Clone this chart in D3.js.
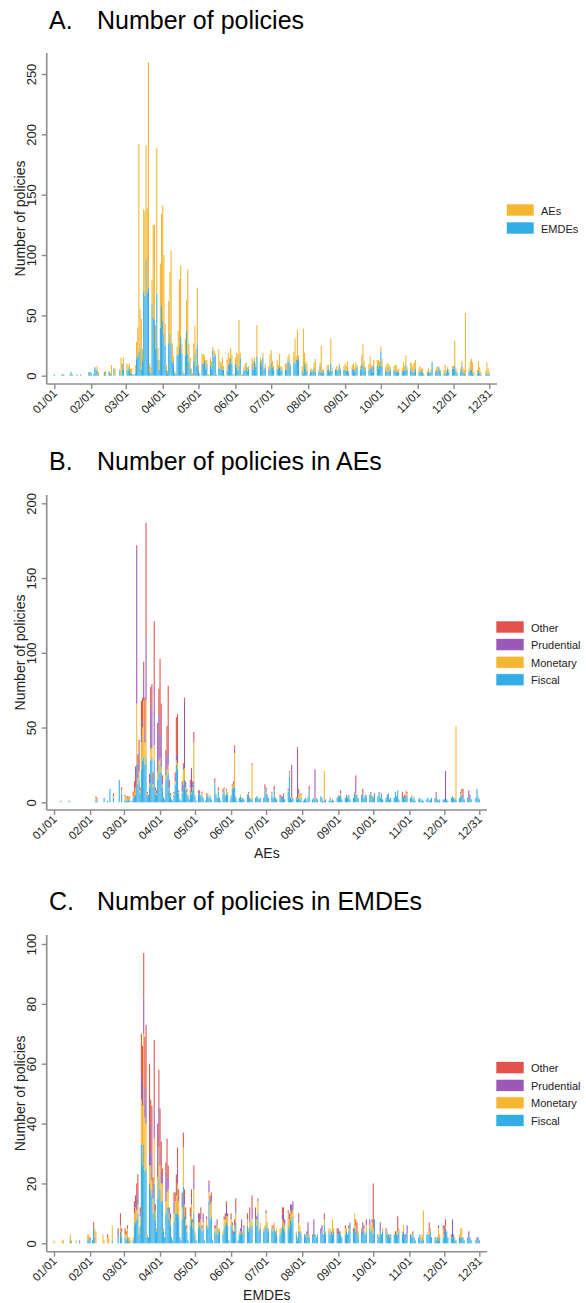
<!DOCTYPE html>
<html>
<head>
<meta charset="utf-8">
<script src="https://cdn.jsdelivr.net/npm/d3@7"></script>
<style>
  html, body { margin: 0; padding: 0; background: #fff; }
  svg { display: block; font-family: "Liberation Sans", Arial, Helvetica, sans-serif; }
</style>
</head>
<body>
<svg id="chart" width="586" height="1303"></svg>
<script>
// Daily counts of new policy measures in 2020 (366 days, Jan 1 .. Dec 31), one line per month.

// Advanced economies
const aeFiscal = [
  0,0,0,0,0,0,1,0,0,0, 0,0,0,1,0,0,0,0,0,0, 0,0,0,0,0,0,0,0,0,0, 0,
  0,0,0,0,0,2,1,0,0,0, 0,0,3,0,0,1,0,9,0,0, 3,0,0,0,0,15,0,6,0,
  0,2,1,1,1,2,0,1,3,4, 5,25,12,15,6,22,28,30,25,30, 4,3,10,28,30,10,28,6,5,15, 20,
  25,20,10,3,2,15,18,20,8,4, 2,1,5,12,25,22,6,2,1,6, 12,15,8,6,4,2,8,5,8,14,
  4,1,0,5,6,4,5,3,0,1, 4,5,3,4,2,0,0,12,5,3, 7,3,1,0,6,7,4,6,5,0, 1,
  4,9,10,10,3,1,0,3,4,2, 3,2,0,0,4,5,3,2,2,0, 0,3,4,3,2,3,0,0,3,8,
  6,4,3,0,0,5,3,8,3,2, 0,0,3,4,2,5,2,0,0,7, 17,3,2,3,0,0,3,2,3,2, 3,
  0,1,2,3,1,3,8,0,0,2, 3,2,3,2,0,0,4,3,1,1, 2,0,0,1,2,1,2,1,0,0, 3,
  4,3,5,2,0,0,3,4,3,5, 2,0,0,3,6,5,4,3,0,0, 4,6,3,5,4,0,0,5,6,3,
  3,5,0,0,4,5,3,6,2,0, 0,3,4,6,2,3,0,0,3,7, 4,8,2,0,0,3,4,3,5,4, 0,
  0,3,4,2,3,1,0,0,2,3, 1,2,1,0,0,2,3,1,2,3, 0,0,2,5,2,1,2,0,0,2,
  2,1,2,1,0,0,3,4,3,2, 2,0,0,3,4,5,3,2,0,0, 3,2,4,2,0,0,0,3,9,3, 2
];
const aeMonetary = [
  0,0,0,0,0,0,0,0,0,0, 0,0,0,0,0,0,0,0,0,0, 0,0,0,0,0,0,0,0,0,0, 0,
  0,0,0,0,0,1,1,0,0,0, 0,0,0,0,0,0,0,0,0,0, 1,0,0,0,0,0,0,2,0,
  0,2,3,2,3,1,0,0,1,3, 5,41,4,6,2,18,22,38,15,39, 2,0,3,8,6,2,10,2,1,5, 8,
  5,4,2,1,0,3,4,5,2,1, 0,0,1,2,3,4,1,0,0,1, 10,8,2,1,1,0,2,2,2,26,
  1,0,0,1,0,1,1,0,0,0, 1,1,0,1,0,0,0,1,1,0, 1,0,0,0,1,2,1,2,2,0, 0,
  1,2,2,23,1,0,0,0,1,1, 0,0,0,0,0,1,0,1,23,0, 0,0,0,1,0,0,0,0,0,1,
  1,0,0,0,0,1,0,0,1,0, 0,0,0,1,0,0,0,0,0,1, 3,0,1,0,0,0,1,1,3,4, 2,
  0,0,0,0,0,1,0,0,0,0, 0,1,0,0,0,0,0,0,0,20, 0,0,0,0,0,0,0,0,0,0, 0,
  1,0,1,0,0,0,0,0,1,0, 0,0,0,0,1,1,0,0,0,0, 0,0,0,0,1,0,0,0,0,0,
  1,0,0,0,0,0,0,0,0,0, 0,0,0,0,0,0,0,0,0,0, 0,0,0,0,0,0,0,0,3,2, 0,
  0,0,1,0,1,0,0,0,0,0, 0,0,0,0,0,0,0,0,0,0, 0,0,0,0,0,0,0,0,0,0,
  0,0,0,0,0,0,0,0,0,1, 49,0,0,0,2,2,0,0,0,0, 0,0,0,0,0,0,0,0,0,1, 0
];
const aePrudential = [
  0,0,0,0,0,0,0,0,0,0, 0,0,0,0,0,0,0,0,0,0, 0,0,0,0,0,0,0,0,0,0, 0,
  0,0,0,0,0,0,0,0,0,0, 0,0,0,0,0,0,0,0,0,0, 0,0,0,0,0,0,0,1,0,
  0,0,0,1,0,0,0,0,0,1, 1,103,10,12,1,4,5,14,8,41, 0,1,3,30,25,5,40,2,2,25, 30,
  28,20,3,0,0,12,10,8,3,0, 0,0,0,3,4,5,1,0,0,4, 2,45,3,1,0,0,3,15,2,1,
  0,0,0,1,1,0,0,0,0,0, 0,0,0,0,0,0,0,1,0,0, 0,0,0,0,1,0,0,1,0,0, 0,
  0,0,1,3,0,0,0,0,0,0, 0,0,0,0,0,0,0,0,1,0, 0,0,0,0,0,0,0,0,0,1,
  1,0,0,0,0,0,0,0,0,0, 0,0,0,0,1,0,0,0,0,1, 1,0,21,0,0,0,0,33,2,0, 0,
  0,0,0,0,0,0,0,0,0,0, 0,19,0,0,0,0,0,0,0,0, 0,0,0,0,0,0,0,0,0,0, 0,
  0,1,2,0,0,0,0,0,0,0, 0,0,0,0,0,7,0,0,0,0, 0,0,0,0,0,0,0,0,1,0,
  0,1,0,0,0,1,0,0,0,0, 0,0,0,0,0,0,0,0,0,0, 0,0,0,0,0,0,0,0,0,0, 0,
  0,0,0,0,0,0,0,0,0,0, 0,0,0,0,0,0,0,0,0,0, 0,0,0,0,0,0,0,0,0,0,
  0,20,0,0,0,0,0,0,0,0, 0,0,0,0,1,1,2,0,0,0, 0,6,0,0,0,0,0,0,0,0, 0
];
const aeOther = [
  0,0,0,0,0,0,0,0,0,0, 0,0,0,0,0,0,0,0,0,0, 0,0,0,0,0,0,0,0,0,0, 0,
  0,0,0,0,0,1,1,0,0,0, 0,0,0,0,0,0,0,0,0,0, 2,0,0,0,0,0,0,1,0,
  0,1,0,0,0,1,0,0,3,6, 13,3,6,9,1,24,15,12,22,77, 1,1,3,11,18,3,43,0,0,8, 18,
  38,22,3,0,0,5,19,45,2,1, 0,0,1,3,25,28,0,0,0,3, 2,2,1,1,0,0,2,1,2,6,
  0,0,0,1,1,0,1,0,0,0, 1,0,0,0,0,0,0,2,0,0, 2,0,0,0,1,1,0,0,0,0, 0,
  0,1,1,2,0,0,0,0,0,0, 0,0,0,0,1,1,0,0,0,0, 0,0,0,0,0,0,0,0,0,2,
  2,1,0,0,0,1,0,3,0,0, 0,0,2,0,1,1,0,0,0,0, 0,0,1,0,0,0,0,1,1,0, 1,
  0,0,0,0,0,0,3,0,0,0, 0,0,0,0,0,0,0,0,0,0, 0,0,0,0,1,0,0,0,0,0, 0,
  0,0,0,0,0,0,0,1,0,0, 0,0,0,0,0,5,1,0,0,0, 1,3,0,0,0,0,0,0,0,1,
  0,0,0,0,0,1,0,0,0,0, 0,0,1,0,0,0,0,0,0,0, 0,0,0,0,0,4,0,2,0,1, 0,
  0,0,0,0,0,0,0,0,0,0, 0,0,0,0,0,0,0,0,0,0, 0,0,1,2,0,0,0,0,0,0,
  0,0,0,0,0,0,0,0,0,0, 0,0,0,0,0,1,4,0,0,0, 0,0,1,0,0,0,0,0,0,0, 0
];

// Emerging market and developing economies
const emFiscal = [
  0,0,0,0,0,0,0,0,0,0, 0,0,0,0,1,0,0,0,0,0, 0,0,1,0,0,0,0,0,0,1, 2,
  1,0,1,5,2,0,0,0,0,0, 0,0,0,0,0,0,0,0,0,1, 0,0,0,0,2,0,4,2,0,
  0,2,1,2,1,0,0,0,1,6, 7,8,10,3,6,33,26,33,24,25, 2,2,20,18,16,10,20,8,4,15, 22,
  18,14,14,4,2,10,12,12,8,6, 2,1,7,10,10,10,9,2,1,8, 19,9,6,4,1,0,6,8,5,10,
  3,1,0,5,6,5,4,5,1,0, 6,5,14,8,9,1,0,4,3,5, 3,4,0,0,3,5,6,7,6,1, 0,
  6,5,3,4,7,0,1,3,3,4, 3,5,0,0,6,4,6,5,6,0, 0,8,6,10,4,5,0,0,4,5,
  6,5,4,0,0,5,4,5,4,3, 0,0,3,4,6,5,4,0,0,6, 5,8,7,9,0,0,3,1,4,4, 3,
  0,0,3,2,3,3,2,0,0,3, 2,3,2,3,0,0,3,4,3,6, 3,0,0,4,3,4,3,4,0,0, 3,
  3,4,3,2,0,0,3,4,3,4, 7,0,0,4,5,4,3,3,0,0, 4,3,4,3,4,0,0,5,4,5,
  3,8,0,0,3,2,4,3,4,0, 0,4,3,3,2,3,0,0,3,3, 3,3,4,0,0,3,4,3,2,3, 0,
  0,3,2,3,2,1,0,0,2,3, 1,2,1,0,0,3,3,3,4,2, 0,0,2,1,2,1,2,0,0,2,
  3,5,4,2,0,0,2,2,3,1, 1,0,0,2,2,2,2,1,0,0, 2,2,2,1,0,0,0,1,1,2, 1
];
const emMonetary = [
  1,0,0,0,0,0,0,1,1,0, 0,0,0,0,2,1,0,0,0,1, 0,0,0,0,0,0,0,0,0,2, 1,
  0,0,0,0,3,4,0,0,0,0, 0,3,1,0,0,2,2,0,0,5, 0,0,0,0,0,0,2,2,0,
  0,1,2,3,1,2,1,0,1,4, 5,3,3,2,3,15,20,37,18,15, 1,0,6,8,5,5,15,3,1,7, 10,
  8,6,6,1,0,4,5,6,2,2, 0,0,3,4,6,10,5,0,0,4, 13,4,2,1,0,0,3,5,2,8,
  1,0,0,2,1,3,1,2,0,0, 2,1,3,5,5,0,0,1,2,1, 2,1,0,0,1,3,2,2,3,0, 0,
  2,1,0,2,3,0,0,1,1,0, 1,0,0,0,2,1,1,2,2,0, 0,0,2,4,1,2,0,0,1,1,
  4,2,1,0,0,1,1,2,0,2, 0,0,2,1,2,2,2,0,0,4, 3,3,3,2,0,0,1,1,3,2, 1,
  0,0,0,1,0,0,1,0,0,0, 0,0,0,0,0,0,0,0,0,2, 1,0,0,1,2,0,5,1,0,0, 0,
  0,0,1,0,0,0,2,1,0,1, 0,0,0,0,5,2,0,1,0,0, 1,0,1,0,2,0,0,1,2,2,
  2,0,0,0,0,1,0,0,1,0, 0,0,1,0,1,0,0,0,0,0, 1,1,1,0,0,1,2,0,0,0, 0,
  0,0,1,0,0,0,0,0,0,0, 1,1,10,0,0,0,1,1,1,0, 0,0,0,1,0,4,1,0,0,3,
  0,1,0,0,0,0,0,0,0,1, 0,0,0,1,3,3,0,0,0,0, 0,0,0,0,0,0,0,0,0,0, 0
];
const emPrudential = [
  0,0,0,0,0,0,0,0,0,0, 0,0,0,0,0,0,0,0,0,0, 0,0,0,0,0,0,0,0,0,0, 0,
  0,0,0,1,0,0,0,0,0,0, 0,0,0,0,0,1,0,0,0,0, 0,0,0,0,3,0,1,0,0,
  0,0,0,0,0,0,0,0,0,2, 1,4,4,0,1,9,8,12,10,8, 0,0,4,14,9,3,10,0,0,10, 14,
  5,4,2,0,0,10,5,4,1,2, 0,0,4,0,3,5,2,0,0,2, 0,3,3,0,0,0,1,2,0,3,
  0,0,0,1,3,2,1,2,0,0, 1,0,3,2,2,0,0,0,1,1, 0,0,0,0,0,0,1,4,1,0, 0,
  1,1,0,0,2,0,0,0,1,4, 0,0,0,0,0,0,1,0,4,0, 0,0,1,1,0,0,0,0,0,0,
  1,0,0,0,0,0,0,0,0,0, 0,0,0,0,2,3,2,0,0,1, 1,2,3,3,0,0,0,0,1,0, 0,
  0,0,0,0,1,4,0,0,0,0, 6,0,0,0,0,0,2,2,0,1, 0,0,0,0,0,0,0,0,0,0, 0,
  2,0,0,0,0,0,0,0,0,0, 0,0,0,0,0,0,0,0,0,0, 0,4,1,0,2,0,0,2,0,1,
  0,0,0,0,0,0,3,0,0,0, 0,0,0,0,0,0,0,0,0,0, 0,0,0,0,0,0,0,0,1,3, 0,
  0,0,0,0,0,0,0,0,0,0, 0,0,0,0,0,0,0,1,0,0, 0,0,0,0,0,1,0,0,0,1,
  1,0,0,0,0,0,0,6,0,0, 0,0,0,0,0,0,0,0,0,0, 0,2,0,0,0,0,0,0,1,0, 0
];
const emOther = [
  0,0,0,0,0,0,0,0,0,0, 0,0,0,0,0,0,0,0,0,0, 0,0,0,0,0,0,0,0,0,0, 0,
  1,0,0,1,0,0,0,0,0,0, 0,0,0,0,0,0,0,0,0,0, 0,0,0,0,0,0,3,1,0,
  0,2,1,1,0,0,0,0,0,2, 3,5,6,0,2,13,12,15,17,25, 0,0,30,8,16,4,23,2,0,8, 12,
  14,10,3,0,0,3,13,4,1,0, 0,0,3,3,4,7,2,0,0,3, 5,2,1,1,0,0,2,3,1,5,
  0,0,0,2,0,2,0,1,0,0, 0,0,1,1,1,0,0,1,0,1, 0,0,0,0,0,1,1,1,0,0, 0,
  1,0,1,2,3,0,0,0,0,0, 0,1,0,0,2,0,4,0,4,0, 0,4,0,0,0,0,0,0,0,0,
  0,0,0,0,0,0,1,0,0,0, 0,0,0,0,2,2,0,0,0,0, 1,0,0,0,0,0,0,0,2,0, 0,
  0,0,0,0,0,0,0,0,0,0, 0,0,0,0,0,0,0,0,0,1, 0,0,0,0,0,0,0,0,0,0, 2,
  0,0,0,0,0,0,1,0,0,1, 0,0,0,1,0,2,4,0,0,0, 0,0,0,0,0,0,0,0,0,0,
  15,0,0,0,0,0,0,0,0,0, 0,1,0,0,0,0,0,0,0,1, 0,5,0,0,0,0,0,0,0,0, 0,
  0,0,0,1,0,0,0,0,0,0, 0,0,0,0,0,0,0,2,0,0, 0,0,0,0,0,0,0,0,0,0,
  2,2,0,0,0,0,1,0,0,0, 0,0,0,0,0,0,0,0,0,0, 0,0,0,0,0,0,0,0,0,0, 0
];

// Axis ticks: first day of each month plus Dec 31 (day index within 2020)
const monthTickDays = [0, 31, 60, 91, 121, 152, 182, 213, 244, 274, 305, 335, 365];
const monthTickLabels = ["01/01","02/01","03/01","04/01","05/01","06/01","07/01",
                         "08/01","09/01","10/01","11/01","12/01","12/31"];
const policyTypes = ["Fiscal", "Monetary", "Prudential", "Other"];
const groupTypes = ["EMDEs", "AEs"];
const yTicksA = [0, 50, 100, 150, 200, 250];
const yTicksB = [0, 50, 100, 150, 200];
const yTicksC = [0, 20, 40, 60, 80, 100];

const COLORS = {
  Fiscal: "#33ade5", Monetary: "#f5b731", Prudential: "#9b58b7", Other: "#e3524a",
  EMDEs: "#33ade5", AEs: "#f5b731"
};
const AXIS = "#8c8c8c";

{
  const all = [aeFiscal, aeMonetary, aePrudential, aeOther, emFiscal, emMonetary, emPrudential, emOther];
  const bad = all.map(a => a.length).filter(n => n !== 366);
  if (bad.length) throw new Error("series length mismatch: " + all.map(a => a.length).join(","));
}

const nDays = aeFiscal.length;
const rowsAE = d3.range(nDays).map(i => ({
  day: i, Fiscal: aeFiscal[i], Monetary: aeMonetary[i], Prudential: aePrudential[i], Other: aeOther[i]
}));
const rowsEM = d3.range(nDays).map(i => ({
  day: i, Fiscal: emFiscal[i], Monetary: emMonetary[i], Prudential: emPrudential[i], Other: emOther[i]
}));
const rowsAll = d3.range(nDays).map(i => ({
  day: i,
  EMDEs: emFiscal[i] + emMonetary[i] + emPrudential[i] + emOther[i],
  AEs: aeFiscal[i] + aeMonetary[i] + aePrudential[i] + aeOther[i]
}));

const svg = d3.select("#chart");

const panels = [
  { letter: "A.", title: "Number of policies", titleY: 28.5,
    rows: rowsAll, keys: groupTypes, legendKeys: ["AEs", "EMDEs"],
    yMax: 250, yTicks: yTicksA, axisTop: 53, zeroY: 375.7, maxY: 74, axisY: 384,
    x0: 54.3, x1: 489.3, axisRight: 497,
    legendX: 506.5, legendY: 204, legendStep: 18, swatchW: 27.5, xLabel: null },
  { letter: "B.", title: "Number of policies in AEs", titleY: 469.5,
    rows: rowsAE, keys: policyTypes, legendKeys: ["Other", "Prudential", "Monetary", "Fiscal"],
    yMax: 200, yTicks: yTicksB, axisTop: 495, zeroY: 802.3, maxY: 503.3, axisY: 810,
    x0: 54, x1: 479.3, axisRight: 487,
    legendX: 496, legendY: 621, legendStep: 17.6, swatchW: 28, xLabel: "AEs", xLabelY: 858 },
  { letter: "C.", title: "Number of policies in EMDEs", titleY: 909.5,
    rows: rowsEM, keys: policyTypes, legendKeys: ["Other", "Prudential", "Monetary", "Fiscal"],
    yMax: 100, yTicks: yTicksC, axisTop: 935, zeroY: 1243.3, maxY: 944, axisY: 1251.7,
    x0: 54, x1: 479.3, axisRight: 487,
    legendX: 496, legendY: 1061.7, legendStep: 17.6, swatchW: 28, xLabel: "EMDEs", xLabelY: 1300 }
];

const axisX = 46.7;

panels.forEach(p => {
  const g = svg.append("g");

  // title
  g.append("text").attr("x", 49).attr("y", p.titleY).attr("font-size", 25).attr("fill", "#000").text(p.letter);
  g.append("text").attr("x", 97).attr("y", p.titleY).attr("font-size", 25).attr("fill", "#000").text(p.title);

  const x = d3.scaleLinear().domain([monthTickDays[0], monthTickDays[monthTickDays.length - 1]]).range([p.x0, p.x1]);
  const y = d3.scaleLinear().domain([0, p.yMax]).range([p.zeroY, p.maxY]);
  const step = x(1) - x(0);
  const bw = step * 0.92;

  // stacked daily bars
  const stacked = d3.stack().keys(p.keys)(p.rows);
  g.append("g").selectAll("g").data(stacked).join("g")
    .attr("fill", s => COLORS[s.key])
    .selectAll("rect").data(s => s.filter(v => v[1] > v[0])).join("rect")
      .attr("x", v => x(v.data.day) - bw / 2)
      .attr("width", bw)
      .attr("y", v => y(v[1]))
      .attr("height", v => y(v[0]) - y(v[1]));

  // y axis
  const yAxis = g.append("g").attr("transform", `translate(${axisX},0)`)
    .call(d3.axisLeft(y).tickValues(p.yTicks).tickSize(5).tickSizeOuter(0).tickFormat(d3.format("d")));
  yAxis.select(".domain").remove();
  yAxis.selectAll(".tick line").attr("stroke", AXIS).attr("stroke-width", 1.4);
  yAxis.selectAll(".tick text")
    .attr("transform", "rotate(-90)")
    .attr("x", 0).attr("y", -10.5).attr("dy", 0)
    .attr("text-anchor", "middle")
    .attr("font-size", 13).attr("fill", "#222")
    .attr("font-family", "Liberation Sans, Arial, sans-serif");
  g.append("line").attr("x1", axisX).attr("x2", axisX).attr("y1", p.axisTop).attr("y2", p.axisY)
    .attr("stroke", AXIS).attr("stroke-width", 1.6);

  // x axis
  const xAxis = g.append("g").attr("transform", `translate(0,${p.axisY})`)
    .call(d3.axisBottom(x).tickValues(monthTickDays).tickSize(5).tickSizeOuter(0)
      .tickFormat((d, i) => monthTickLabels[i]));
  xAxis.select(".domain").remove();
  xAxis.selectAll(".tick line").attr("stroke", AXIS).attr("stroke-width", 1.4);
  xAxis.selectAll(".tick text")
    .attr("transform", "translate(3,10) rotate(-45)")
    .attr("x", 0).attr("y", 0).attr("dy", 0)
    .attr("text-anchor", "end")
    .attr("font-size", 11.5).attr("fill", "#222")
    .attr("font-family", "Liberation Sans, Arial, sans-serif");
  g.append("line").attr("x1", axisX).attr("x2", p.axisRight).attr("y1", p.axisY).attr("y2", p.axisY)
    .attr("stroke", AXIS).attr("stroke-width", 1.6);

  // y axis title
  g.append("text")
    .attr("transform", `translate(24.5,${(p.axisTop + p.axisY) / 2}) rotate(-90)`)
    .attr("text-anchor", "middle").attr("font-size", 14).attr("fill", "#222")
    .text("Number of policies");

  if (p.xLabel) {
    g.append("text").attr("x", (axisX + p.axisRight) / 2).attr("y", p.xLabelY)
      .attr("text-anchor", "middle").attr("font-size", 14).attr("fill", "#222")
      .text(p.xLabel);
  }

  // legend
  const lg = g.append("g");
  p.legendKeys.forEach((k, i) => {
    const ly = p.legendY + i * p.legendStep;
    lg.append("rect").attr("x", p.legendX).attr("y", ly).attr("width", p.swatchW).attr("height", 12)
      .attr("fill", COLORS[k]).attr("stroke", "#fff").attr("stroke-width", 0.6);
    lg.append("text").attr("x", p.legendX + p.swatchW + 7).attr("y", ly + 10.5)
      .attr("font-size", 11).attr("fill", "#222").text(k);
  });
});
</script>
</body>
</html>
